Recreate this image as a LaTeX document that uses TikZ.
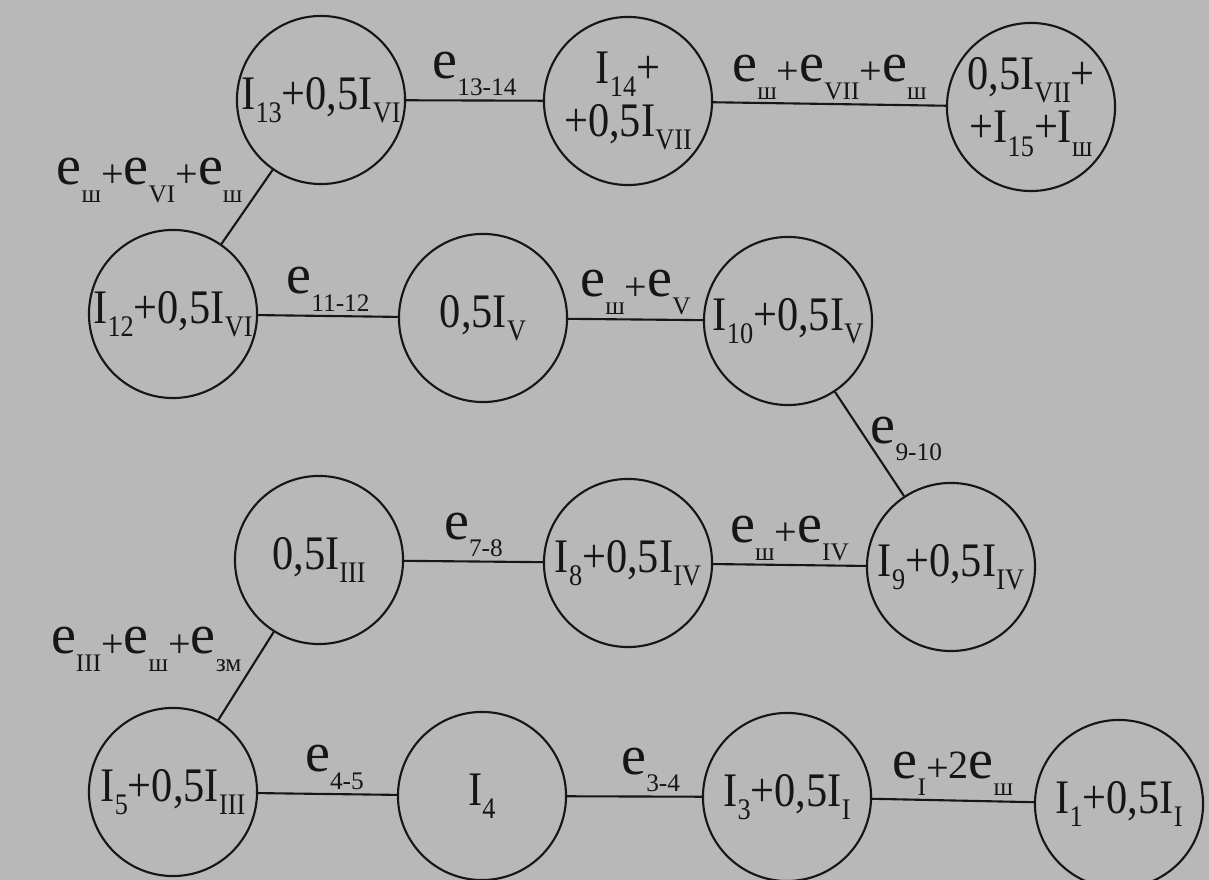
\documentclass[tikz,border=0pt]{standalone}
\usepackage{fontspec}
\setmainfont{Liberation Serif}
\newfontfamily\circfont[FakeStretch=0.88]{Liberation Serif}
\usetikzlibrary{positioning}
\definecolor{paper}{RGB}{184,184,184}
\definecolor{ink}{RGB}{22,22,22}
\newcommand{\Isub}[1]{I\raisebox{-3.8pt}{\fontsize{8.5}{8.5}\selectfont #1}}
\newcommand{\esub}[1]{\scalebox{1.4}[1.4]{e}\raisebox{-5pt}{\fontsize{7.2}{7.2}\selectfont #1}}
\newcommand{\eplus}{\raisebox{-1pt}{+}}
\begin{document}
\begin{tikzpicture}[
        x=0.01cm, y=-0.01cm,
        state/.style={circle, draw=ink, line width=0.6pt, minimum size=1.68cm, inner sep=0pt, align=center, text=ink, font=\circfont\fontsize{13.7}{15.2}\selectfont},
        link/.style={draw=ink, line width=0.6pt},
        elabel/.style={inner sep=1pt, text=ink, font=\fontsize{11.4}{12}\selectfont}
    ]

    \fill [paper] (0,0) rectangle (1209,880);
    \useasboundingbox (0,0) rectangle (1209,880);

    \node (c13) [state] at (321,100) {\Isub{13}+0,5\Isub{VI}};
    \node (c14) [state] at (628,101) {\Isub{14}+\\+0,5\Isub{VII}};
    \node (c15) [state] at (1031,107) {0,5\Isub{VII}+\\+\Isub{15}+\Isub{ш}};
    \node (c12) [state] at (173,314) {\Isub{12}+0,5\Isub{VI}};
    \node (c11) [state] at (483,318) {0,5\Isub{V}};
    \node (c10) [state] at (788,321) {\Isub{10}+0,5\Isub{V}};
    \node (c7) [state] at (319,560) {0,5\Isub{III}};
    \node (c8) [state] at (628,563) {\Isub{8}+0,5\Isub{IV}};
    \node (c9) [state] at (951,567) {\Isub{9}+0,5\Isub{IV}};
    \node (c5) [state] at (173,792) {\Isub{5}+0,5\Isub{III}};
    \node (c4) [state] at (482,796) {\Isub{4}};
    \node (c3) [state] at (787,797) {\Isub{3}+0,5\Isub{I}};
    \node (c1) [state] at (1119,804) {\Isub{1}+0,5\Isub{I}};

    \draw [link] (c13) -- node[elabel, above] {\esub{13-14}} (c14);
    \draw [link] (c14) -- node[elabel, above] {\esub{ш}\eplus\esub{VII}\eplus\esub{ш}} (c15);
    \draw [link] (c13) -- node[elabel, anchor=south east] {\esub{ш}\eplus\esub{VI}\eplus\esub{ш}} (c12);
    \draw [link] (c12) -- node[elabel, above] {\esub{11-12}} (c11);
    \draw [link] (c11) -- node[elabel, above] {\esub{ш}\eplus\esub{V}} (c10);
    \draw [link] (c10) -- node[elabel, anchor=west, pos=0.45] {\esub{9-10}} (c9);
    \draw [link] (c7) -- node[elabel, above] {\esub{7-8}} (c8);
    \draw [link] (c8) -- node[elabel, above] {\esub{ш}\eplus\esub{IV}} (c9);
    \draw [link] (c7) -- node[elabel, anchor=south east] {\esub{III}\eplus\esub{ш}\eplus\esub{зм}} (c5);
    \draw [link] (c5) -- node[elabel, above, pos=0.55] {\esub{4-5}} (c4);
    \draw [link] (c4) -- node[elabel, above, pos=0.62] {\esub{3-4}} (c3);
    \draw [link] (c3) -- node[elabel, above] {\esub{I}\eplus2\esub{ш}} (c1);
\end{tikzpicture}
\end{document}
